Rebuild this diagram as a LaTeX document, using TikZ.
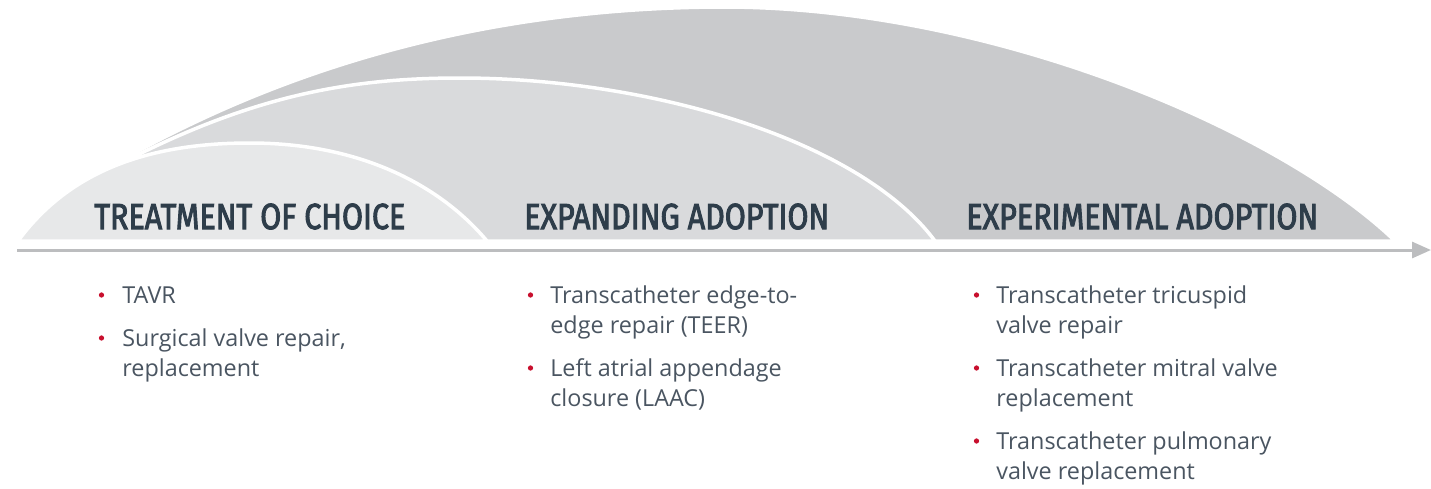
\documentclass[tikz,border=0pt]{standalone}
\usepackage{fontspec}
\setmainfont{Open Sans}
\newfontfamily\headfont[FakeBold=3]{Fira Sans}
\usetikzlibrary{arrows.meta}
\definecolor{domeback}{HTML}{C9CACC}
\definecolor{domemid}{HTML}{D9DADC}
\definecolor{domefront}{HTML}{E7E8E9}
\definecolor{headink}{HTML}{2E3D4A}
\definecolor{bodyink}{HTML}{4A5561}
\definecolor{dotred}{HTML}{C8102E}
\definecolor{axisgray}{HTML}{BCBDBF}
\begin{document}
\begin{tikzpicture}[x=0.02cm,y=-0.02cm,
  dome/.style={draw=white, line width=0.07cm, line join=round},
  heading/.style={font=\headfont\fontsize{20.6}{24}\selectfont, text=headink, anchor=base west, inner sep=0},
  bodyline/.style={font=\fontsize{13.3}{15}\selectfont, text=bodyink, anchor=base west, inner sep=0},
  bullet/.style={circle, fill=dotred, inner sep=0, minimum size=0.105cm},
  timeaxis/.style={draw=axisgray, line width=0.06cm, -{Triangle[length=0.38cm,width=0.32cm]}}
]
\useasboundingbox (0,0) rectangle (1431,488);

% outer dome: experimental adoption
\path[dome, fill=domeback] (122,160) .. controls (300,60) and (500,8) .. (720,7)
  .. controls (990,6) and (1280,130) .. (1395,241) -- (600,241) -- cycle;
% middle dome: expanding adoption
\path[dome, fill=domemid] (112,168) .. controls (250,95) and (350,78) .. (460,78)
  .. controls (650,78) and (860,140) .. (935,241) -- (300,241) -- cycle;
% front dome: treatment of choice
\path[dome, fill=domefront] (18,241) .. controls (70,170) and (150,143) .. (250,143)
  .. controls (360,143) and (440,185) .. (487,241) -- cycle;

% time axis
\coordinate (axstart) at (17,250);
\coordinate (axend) at (1431,250);
\draw[timeaxis] (axstart) -- (axend);

% stage headings
\node[heading] (h1) at (94,229) {\resizebox{6.22cm}{\height}{TREATMENT OF CHOICE}};
\node[heading] (h2) at (524,229) {\resizebox{6.10cm}{\height}{EXPANDING ADOPTION}};
\node[heading] (h3) at (966,229) {\resizebox{7.04cm}{\height}{EXPERIMENTAL ADOPTION}};

% treatment of choice
\node[bullet] (d11) at (101.5,295) {};
\node[bodyline] (t11) at (122,303) {TAVR};
\node[bullet] (d12) at (101.5,338) {};
\node[bodyline] (t12) at (122,346) {Surgical valve repair,};
\node[bodyline] (t12b) at (122,376) {replacement};

% expanding adoption
\node[bullet] (d21) at (530.5,295) {};
\node[bodyline] (t21) at (550,303) {Transcatheter edge-to-};
\node[bodyline] (t21b) at (550,333) {edge repair (TEER)};
\node[bullet] (d22) at (530.5,368) {};
\node[bodyline] (t22) at (550,376) {Left atrial appendage};
\node[bodyline] (t22b) at (550,406) {closure (LAAC)};

% experimental adoption
\node[bullet] (d31) at (976.5,295) {};
\node[bodyline] (t31) at (996,303) {Transcatheter tricuspid};
\node[bodyline] (t31b) at (996,333) {valve repair};
\node[bullet] (d32) at (976.5,368) {};
\node[bodyline] (t32) at (996,376) {Transcatheter mitral valve};
\node[bodyline] (t32b) at (996,406) {replacement};
\node[bullet] (d33) at (976.5,441) {};
\node[bodyline] (t33) at (996,449) {Transcatheter pulmonary};
\node[bodyline] (t33b) at (996,479) {valve replacement};
\end{tikzpicture}
\end{document}
